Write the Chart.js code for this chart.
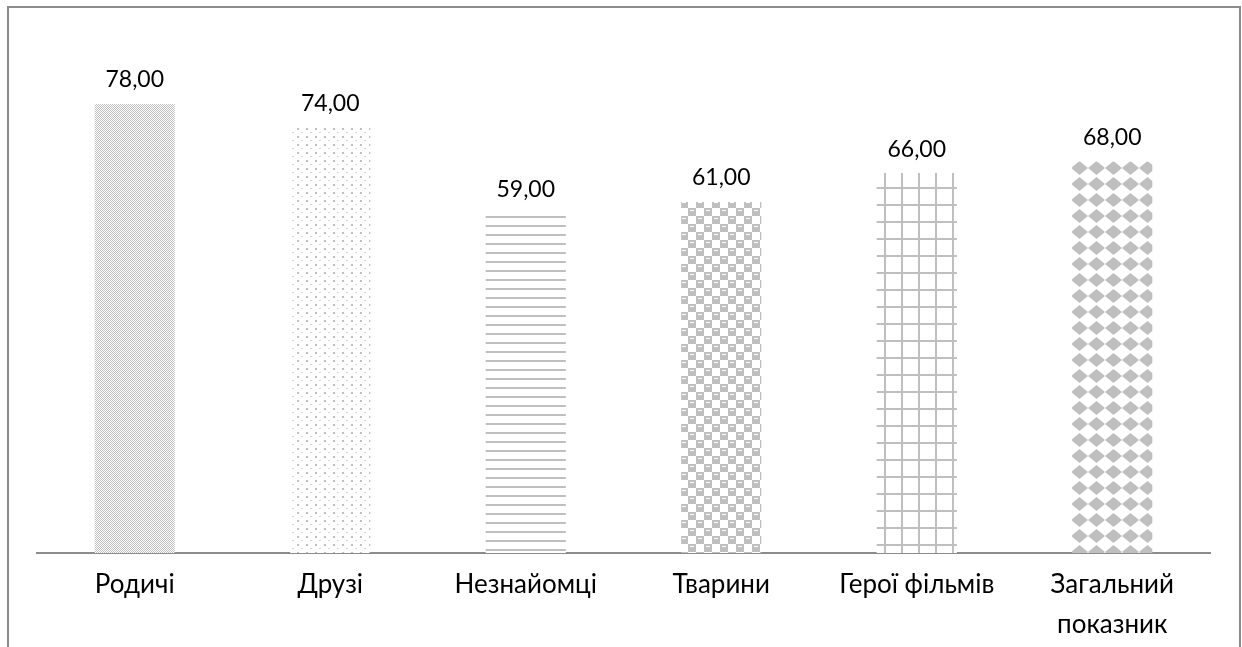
<!DOCTYPE html>
<html>
<head>
<meta charset="utf-8">
<script src="https://cdn.jsdelivr.net/npm/chart.js@4"></script>
<style>
  html, body { margin: 0; padding: 0; background: #fff; overflow: hidden; }
</style>
</head>
<body>
<canvas id="myChart" width="1242" height="663"></canvas>
<script>
var categories = ['Родичі', 'Друзі', 'Незнайомці', 'Тварини', 'Герої фільмів', ['Загальний', 'показник']];
var values = [78, 74, 59, 61, 66, 68];

var GRAY = '#bfbfbf';

// small tiles used as bar fills
function tile(w, h, draw) {
    var c = document.createElement('canvas');
    c.width = w; c.height = h;
    var t = c.getContext('2d');
    t.fillStyle = '#fff';
    t.fillRect(0, 0, w, h);
    t.fillStyle = GRAY;
    draw(t);
    return c;
}

var ctx = document.getElementById('myChart').getContext('2d');

var patterns = [
    // fine checker
    ctx.createPattern(tile(2, 2, function (t) {
        t.fillRect(0, 0, 1, 1); t.fillRect(1, 1, 1, 1);
    }), 'repeat'),
    // sparse dots
    ctx.createPattern(tile(9, 8, function (t) {
        t.fillRect(0, 0, 2, 2);
        t.fillStyle = '#d6d6d6';
        t.fillRect(4, 4, 2, 1);
    }), 'repeat'),
    // horizontal lines
    ctx.createPattern(tile(4, 9, function (t) {
        t.fillRect(0, 0, 4, 2);
    }), 'repeat'),
    // large checker
    ctx.createPattern(tile(16, 16, function (t) {
        t.fillRect(0, 0, 8, 8); t.fillRect(8, 8, 8, 8);
        t.fillStyle = '#fff';
        t.fillRect(2, 2, 4, 1); t.fillRect(10, 10, 4, 1);
    }), 'repeat'),
    // grid
    ctx.createPattern(tile(17, 17, function (t) {
        t.fillRect(0, 0, 2, 17); t.fillRect(0, 0, 17, 2);
    }), 'repeat'),
    // diamonds
    ctx.createPattern(tile(17, 16, function (t) {
        t.beginPath();
        t.moveTo(8.5, 1); t.lineTo(17, 8); t.lineTo(8.5, 15); t.lineTo(0, 8);
        t.closePath();
        t.fill();
    }), 'repeat')
];

var framePlugin = {
    id: 'frame',
    beforeDraw: function (chart) {
        var c = chart.ctx;
        c.save();
        c.strokeStyle = '#8c8c8c';
        c.lineWidth = 2;
        c.beginPath();
        c.moveTo(8, 700);
        c.lineTo(8, 7);
        c.lineTo(1240, 7);
        c.lineTo(1240, 700);
        c.stroke();
        c.restore();
    }
};

var valueLabels = {
    id: 'valueLabels',
    afterDatasetsDraw: function (chart) {
        var c = chart.ctx;
        var meta = chart.getDatasetMeta(0);
        c.save();
        c.font = '23px Lato, Carlito, sans-serif';
        c.fillStyle = '#000';
        c.textAlign = 'center';
        c.textBaseline = 'middle';
        meta.data.forEach(function (bar, i) {
            c.fillText(values[i].toFixed(2).replace('.', ','), bar.x, bar.y - 24);
        });
        c.restore();
    }
};

var chart = new Chart(ctx, {
    type: 'bar',
    data: {
        labels: categories,
        datasets: [{
            data: values,
            backgroundColor: patterns,
            borderWidth: 0,
            categoryPercentage: 1,
            barPercentage: 0.41
        }]
    },
    options: {
        responsive: false,
        animation: false,
        layout: { padding: { left: 37, right: 32, top: 35, bottom: 15 } },
        plugins: {
            legend: { display: false },
            tooltip: { enabled: false }
        },
        scales: {
            x: {
                grid: { display: false },
                border: { display: true, color: '#8c8c8c', width: 2 },
                ticks: {
                    color: '#000',
                    padding: 4,
                    maxRotation: 0,
                    autoSkip: false,
                    font: { family: 'Lato, Carlito, sans-serif', size: 26, lineHeight: 1.52 }
                }
            },
            y: {
                display: false,
                min: 0,
                max: 90
            }
        }
    },
    plugins: [framePlugin, valueLabels]
});
</script>
</body>
</html>
